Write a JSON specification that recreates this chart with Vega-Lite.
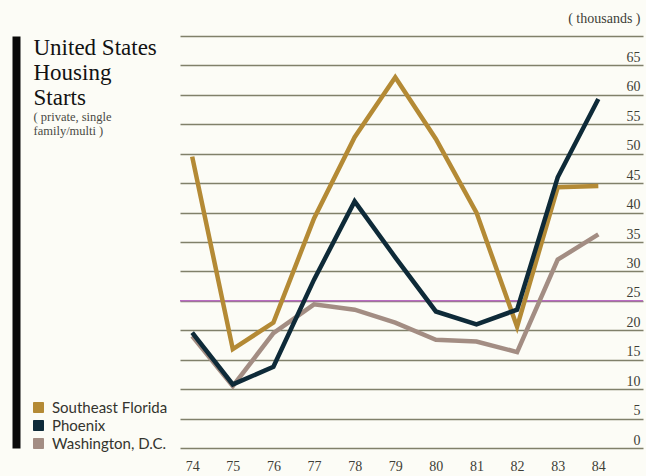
{
  "$schema": "https://vega.github.io/schema/vega-lite/v6.json",
  "width": 463,
  "height": 412,
  "autosize": {"type": "none"},
  "padding": {"left": 180, "top": 36, "right": 3, "bottom": 28},
  "background": "#fcfcf6",
  "config": {"view": {"stroke": null}},
  "data": {
    "values": [
      {"year": 74, "city": "Washington, D.C.", "starts": 19.0},
      {"year": 75, "city": "Washington, D.C.", "starts": 10.5},
      {"year": 76, "city": "Washington, D.C.", "starts": 19.5},
      {"year": 77, "city": "Washington, D.C.", "starts": 24.4},
      {"year": 78, "city": "Washington, D.C.", "starts": 23.5},
      {"year": 79, "city": "Washington, D.C.", "starts": 21.3},
      {"year": 80, "city": "Washington, D.C.", "starts": 18.4},
      {"year": 81, "city": "Washington, D.C.", "starts": 18.1},
      {"year": 82, "city": "Washington, D.C.", "starts": 16.3},
      {"year": 83, "city": "Washington, D.C.", "starts": 32.0},
      {"year": 84, "city": "Washington, D.C.", "starts": 36.3},
      {"year": 74, "city": "Southeast Florida", "starts": 49.5},
      {"year": 75, "city": "Southeast Florida", "starts": 16.8},
      {"year": 76, "city": "Southeast Florida", "starts": 21.3},
      {"year": 77, "city": "Southeast Florida", "starts": 39.0},
      {"year": 78, "city": "Southeast Florida", "starts": 52.8},
      {"year": 79, "city": "Southeast Florida", "starts": 63.0},
      {"year": 80, "city": "Southeast Florida", "starts": 52.5},
      {"year": 81, "city": "Southeast Florida", "starts": 40.0},
      {"year": 82, "city": "Southeast Florida", "starts": 20.6},
      {"year": 83, "city": "Southeast Florida", "starts": 44.3},
      {"year": 84, "city": "Southeast Florida", "starts": 44.5},
      {"year": 74, "city": "Phoenix", "starts": 19.6},
      {"year": 75, "city": "Phoenix", "starts": 10.8},
      {"year": 76, "city": "Phoenix", "starts": 13.8},
      {"year": 77, "city": "Phoenix", "starts": 28.6},
      {"year": 78, "city": "Phoenix", "starts": 41.9},
      {"year": 79, "city": "Phoenix", "starts": 32.4},
      {"year": 80, "city": "Phoenix", "starts": 23.2},
      {"year": 81, "city": "Phoenix", "starts": 21.0},
      {"year": 82, "city": "Phoenix", "starts": 23.5},
      {"year": 83, "city": "Phoenix", "starts": 46.0},
      {"year": 84, "city": "Phoenix", "starts": 59.3}
    ]
  },
  "layer": [
    {
      "data": {"values": [{"level": 25}]},
      "mark": {"type": "rule", "color": "#b96cc2", "strokeWidth": 1.5},
      "encoding": {
        "y": {
          "field": "level",
          "type": "quantitative",
          "scale": {"domain": [0, 70], "nice": false, "zero": true},
          "axis": {
            "orient": "right",
            "values": [0, 5, 10, 15, 20, 25, 30, 35, 40, 45, 50, 55, 60, 65, 70],
            "grid": true,
            "gridColor": "#80806a",
            "gridWidth": 1.5,
            "domain": false,
            "ticks": false,
            "labelAlign": "right",
            "labelPadding": -3,
            "labelBaseline": "alphabetic",
            "labelOffset": -4,
            "labelFlush": false,
            "labelOverlap": false,
            "labelFont": "Liberation Serif",
            "labelFontSize": 14,
            "labelColor": "#3e3e36",
            "labelExpr": "datum.value == 70 ? '' : datum.label",
            "title": "( thousands )",
            "titleAngle": 0,
            "titleAlign": "right",
            "titleBaseline": "alphabetic",
            "titleX": -3,
            "titleY": -14,
            "titleFont": "Liberation Serif",
            "titleFontSize": 14,
            "titleFontWeight": "normal",
            "titleColor": "#3e3e36"
          }
        }
      }
    },
    {
      "mark": {"type": "line", "strokeWidth": 4.5, "strokeJoin": "miter"},
      "encoding": {
        "x": {
          "field": "year",
          "type": "quantitative",
          "scale": {"domain": [73.7, 85.1], "nice": false, "zero": false},
          "axis": {
            "values": [74, 75, 76, 77, 78, 79, 80, 81, 82, 83, 84],
            "format": "d",
            "domain": false,
            "ticks": false,
            "grid": false,
            "labelPadding": 11,
            "labelFlush": false,
            "labelFont": "Liberation Serif",
            "labelFontSize": 14,
            "labelColor": "#3e3e36",
            "title": ["( private, single", "family/multi )"],
            "titleAngle": 0,
            "titleAlign": "left",
            "titleBaseline": "alphabetic",
            "titleX": -147,
            "titleY": -328,
            "titleFont": "Liberation Serif",
            "titleFontSize": 12.5,
            "titleFontWeight": "normal",
            "titleLineHeight": 14,
            "titleColor": "#4a4a44"
          }
        },
        "y": {
          "field": "starts",
          "type": "quantitative",
          "axis": {
            "orient": "left",
            "offset": 164,
            "domain": true,
            "domainColor": "#0a0a0a",
            "domainWidth": 8,
            "ticks": false,
            "labels": false,
            "grid": false,
            "title": ["United States", "Housing", "Starts"],
            "titleAngle": 0,
            "titleAlign": "left",
            "titleBaseline": "alphabetic",
            "titleX": 17,
            "titleY": 18,
            "titleFont": "Liberation Serif",
            "titleFontSize": 23,
            "titleFontWeight": "normal",
            "titleLineHeight": 25,
            "titleColor": "#121212"
          }
        },
        "color": {
          "field": "city",
          "type": "nominal",
          "scale": {
            "domain": ["Southeast Florida", "Phoenix", "Washington, D.C."],
            "range": ["#b48a35", "#0e2a38", "#a38d83"]
          },
          "legend": {
            "title": null,
            "orient": "none",
            "legendX": -149,
            "legendY": 364,
            "symbolType": "square",
            "symbolSize": 100,
            "labelFont": "Lato",
            "labelFontSize": 15,
            "labelColor": "#34342e",
            "labelOffset": 6,
            "rowPadding": 2,
            "encode": {
              "symbols": {
                "update": {
                  "fill": {"scale": "color", "field": "value"},
                  "stroke": {"value": "#8a8a80"},
                  "strokeWidth": {"value": 1},
                  "shape": {"value": "square"},
                  "opacity": {"value": 1}
                }
              }
            }
          }
        }
      }
    }
  ],
  "resolve": {"axis": {"y": "independent"}}
}
